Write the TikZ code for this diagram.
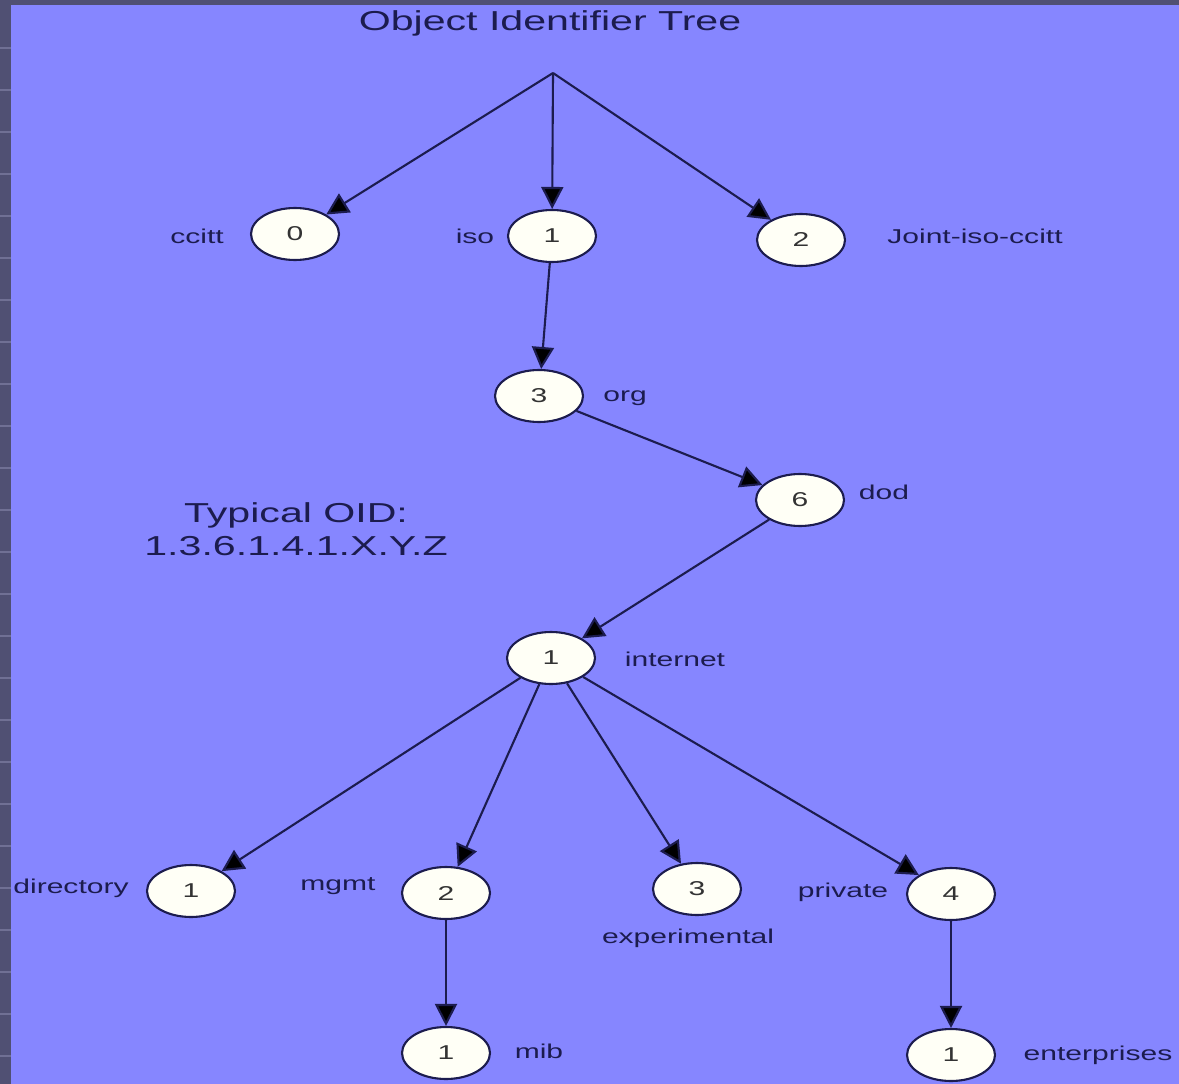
\documentclass[tikz,border=0pt]{standalone}
\usepackage{fontspec}
\setmainfont{Liberation Sans}
\usetikzlibrary{shapes.geometric,arrows.meta}
\definecolor{slidebg}{RGB}{134,134,255}
\definecolor{stripbg}{RGB}{80,80,115}
\definecolor{stripln}{RGB}{112,112,148}
\definecolor{inkc}{RGB}{28,28,78}
\definecolor{nodefill}{RGB}{255,255,246}
\newcommand{\wtxt}[1]{\scalebox{1.5}[1]{#1}}
\tikzset{
  oid/.style={ellipse,draw=inkc,fill=nodefill,line width=1.2pt,minimum width=1.76cm,minimum height=1.04cm,inner sep=0pt,text=black!80,font=\fontsize{11.4}{13}\selectfont},
  lbl/.style={inner sep=0pt,text=inkc,font=\fontsize{11.4}{13}\selectfont},
  big/.style={inner sep=0pt,text=inkc,align=center,font=\fontsize{15.6}{18.8}\selectfont},
  oidarrow/.style={draw=inkc,line width=1.2pt,-{Triangle[length=0.44cm,width=0.44cm,fill=black]}}
}
\begin{document}
\begin{tikzpicture}[x=0.02cm,y=-0.02cm]
\useasboundingbox(0,0) rectangle (1179,1084);
\fill[slidebg](0,0) rectangle (1179,1084);
\fill[stripbg](0,0) rectangle (11,1084);
\fill[stripbg](0,0) rectangle (1179,5);
\foreach \y in {48,90,...,1060}{\draw[stripln,line width=1pt](0,\y)--++(11,0);}
% title and note
\node[big] (title) at (550,23) {\wtxt{Object Identifier Tree}};
\node[big] (typ) at (296,529) {\wtxt{Typical OID:}\\\wtxt{1.3.6.1.4.1.X.Y.Z}};
% tree
\coordinate (root) at (553,73);
\node[oid] (ccitt) at (295,234) {\wtxt{0}};
\node[oid] (iso) at (552,236) {\wtxt{1}};
\node[oid] (joint) at (801,240) {\wtxt{2}};
\node[oid] (org) at (539,396) {\wtxt{3}};
\node[oid] (dod) at (800,500) {\wtxt{6}};
\node[oid] (inet) at (551,658) {\wtxt{1}};
\node[oid] (dir) at (191,891) {\wtxt{1}};
\node[oid] (mgmt) at (446,893) {\wtxt{2}};
\node[oid] (exper) at (697,889) {\wtxt{3}};
\node[oid] (priv) at (951,894) {\wtxt{4}};
\node[oid] (mib) at (446,1053) {\wtxt{1}};
\node[oid] (ent) at (951,1055) {\wtxt{1}};
% labels
\node[lbl] (ccittl) at (197,236) {\wtxt{ccitt}};
\node[lbl] (isol) at (475,236) {\wtxt{iso}};
\node[lbl] (jointl) at (975,236) {\wtxt{Joint-iso-ccitt}};
\node[lbl] (orgl) at (625,398) {\wtxt{org}};
\node[lbl] (dodl) at (884,492) {\wtxt{dod}};
\node[lbl] (inetl) at (675,659) {\wtxt{internet}};
\node[lbl] (dirl) at (71,888) {\wtxt{directory}};
\node[lbl] (mgmtl) at (338,886) {\wtxt{mgmt}};
\node[lbl] (experl) at (688,938) {\wtxt{experimental}};
\node[lbl] (privl) at (843,892) {\wtxt{private}};
\node[lbl] (mibl) at (539,1051) {\wtxt{mib}};
\node[lbl] (entl) at (1098,1055) {\wtxt{enterprises}};
% edges
\foreach \t in {ccitt,iso,joint}{\draw[oidarrow](root)--(\t);}
\draw[oidarrow](iso)--(org);
\draw[oidarrow](org)--(dod);
\draw[oidarrow](dod)--(inet);
\foreach \t in {dir,mgmt,exper,priv}{\draw[oidarrow](inet)--(\t);}
\draw[oidarrow](mgmt)--(mib);
\draw[oidarrow](priv)--(ent);
\end{tikzpicture}
\end{document}
